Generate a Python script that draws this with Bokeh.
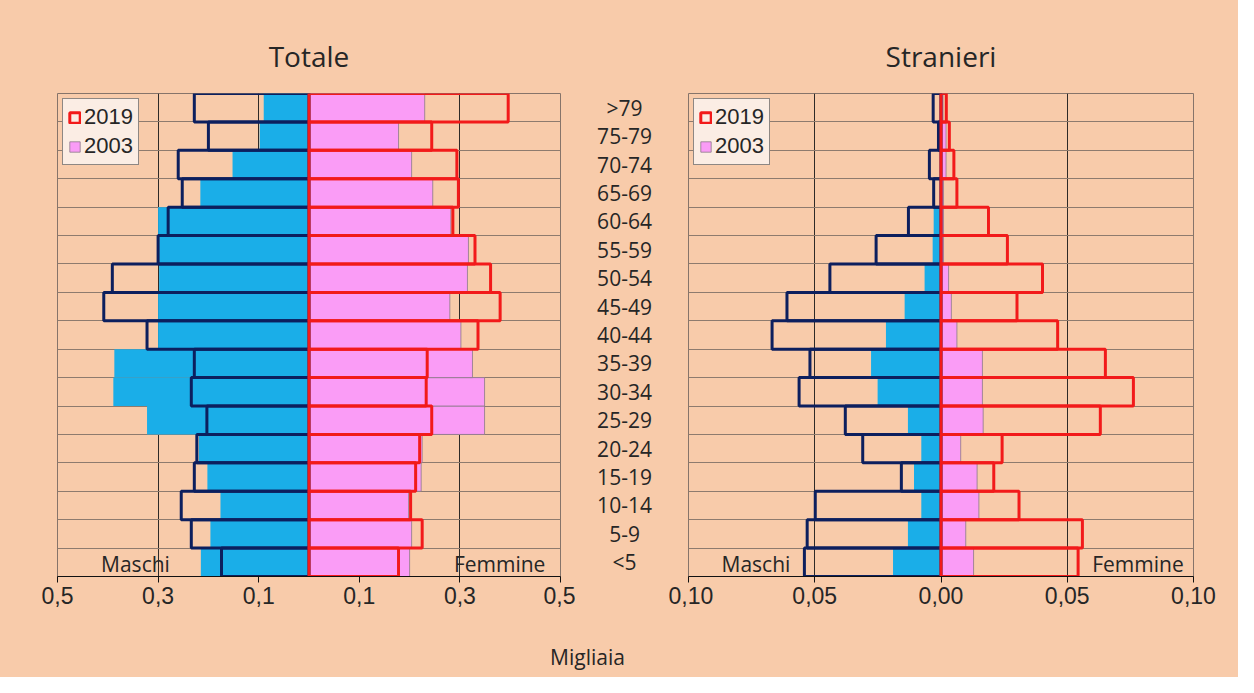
import numpy as np
from bokeh.plotting import figure
from bokeh.models import (Range1d, FixedTicker, Label, ColumnDataSource,
                          Legend, LegendItem)
from bokeh.layouts import row, column
from bokeh.embed import file_html
from bokeh.resources import INLINE
from bokeh.core.properties import value

# ---------------- data (bottom -> top) ----------------
ages = ["<5", "5-9", "10-14", "15-19", "20-24", "25-29", "30-34", "35-39", "40-44",
        "45-49", "50-54", "55-59", "60-64", "65-69", "70-74", "75-79", ">79"]

# Totale (migliaia)
tot_m_2019 = [0.174, 0.234, 0.254, 0.228, 0.223, 0.203, 0.234, 0.228, 0.322,
              0.408, 0.391, 0.300, 0.280, 0.252, 0.260, 0.200, 0.228]
tot_m_2003 = [0.215, 0.196, 0.176, 0.202, 0.219, 0.322, 0.389, 0.387, 0.300,
              0.300, 0.298, 0.298, 0.300, 0.216, 0.152, 0.098, 0.090]
tot_f_2019 = [0.178, 0.225, 0.202, 0.212, 0.220, 0.244, 0.233, 0.235, 0.336,
              0.380, 0.361, 0.330, 0.286, 0.297, 0.294, 0.244, 0.396]
tot_f_2003 = [0.200, 0.204, 0.198, 0.223, 0.225, 0.349, 0.349, 0.325, 0.302,
              0.280, 0.315, 0.317, 0.282, 0.246, 0.204, 0.178, 0.230]

# Stranieri (migliaia)
str_m_2019 = [0.0541, 0.0530, 0.0498, 0.0157, 0.0310, 0.0379, 0.0562, 0.0519, 0.0669,
              0.0610, 0.0440, 0.0257, 0.0129, 0.0029, 0.0046, 0.0010, 0.0031]
str_m_2003 = [0.0190, 0.0131, 0.0078, 0.0107, 0.0078, 0.0131, 0.0251, 0.0277, 0.0218,
              0.0144, 0.0065, 0.0033, 0.0029, 0.0005, 0.0003, 0.0002, 0.0005]
str_f_2019 = [0.0543, 0.0560, 0.0309, 0.0209, 0.0242, 0.0631, 0.0762, 0.0651, 0.0462,
              0.0301, 0.0402, 0.0263, 0.0188, 0.0063, 0.0051, 0.0033, 0.0021]
str_f_2003 = [0.0129, 0.0098, 0.0150, 0.0143, 0.0078, 0.0167, 0.0164, 0.0164, 0.0063,
              0.0041, 0.0030, 0.0010, 0.0010, 0.0010, 0.0020, 0.0020, 0.0008]

tot_ticks = [-0.5, -0.3, -0.1, 0.1, 0.3, 0.5]
tot_tick_labels = ["0,5", "0,3", "0,1", "0,1", "0,3", "0,5"]
str_ticks = [-0.10, -0.05, 0.0, 0.05, 0.10]
str_tick_labels = ["0,10", "0,05", "0,00", "0,05", "0,10"]

titles = ["Totale", "Stranieri"]
years = ["2019", "2003"]
unit_label = "Migliaia"

# ---------------- style ----------------
BG = "#F8CBAA"
BLUE = "#1AAEE8"
PINK = "#FA9CF6"
NAVY = "#0C1F5E"
RED = "#F21A1A"
TXT = "#262626"
SANS = "Open Sans"
ARIAL = "Liberation Sans"

ROW_H = 620          # height of the row with the pyramids
TOP, BOTTOM = 93, 44  # frame: y 93..576
BOT_H = 57           # strip for "Migliaia"


def pyramid(title, m19, m03, f19, f03, xmax, ticks, tick_labels, width, bl, br,
            maschi_x, femmine_x, title_offset):
    n = len(ages)
    p = figure(width=width, height=ROW_H, x_range=Range1d(-xmax, xmax), y_range=Range1d(0, n),
               output_backend="svg", toolbar_location=None,
               min_border_left=bl, min_border_right=br,
               min_border_top=TOP, min_border_bottom=BOTTOM)
    p.background_fill_color = BG
    p.border_fill_color = BG
    p.outline_line_color = "#86746A"
    p.outline_line_width = 1

    src = ColumnDataSource(dict(
        y=np.arange(n) + 0.5,
        m19=-np.array(m19), m03=-np.array(m03),
        f19=np.array(f19), f03=np.array(f03),
    ))
    p.hbar(y="y", left="m03", right=0, height=1, fill_color=BLUE, line_color=None, source=src)
    r03 = p.hbar(y="y", left=0, right="f03", height=1, fill_color=PINK,
                 line_color="#8C7A88", line_width=0.8, source=src)
    p.hbar(y="y", left="m19", right=0, height=1, fill_color=None, line_color=NAVY,
           line_width=3, source=src)
    r19 = p.hbar(y="y", left=0, right="f19", height=1, fill_color=None, line_color=RED,
                 line_width=3, source=src)

    # axes
    p.yaxis.visible = False
    ax = p.xaxis[0]
    ax.ticker = FixedTicker(ticks=ticks)
    ax.major_label_overrides = {t: l for t, l in zip(ticks, tick_labels)}
    ax.major_tick_out = 6
    ax.major_tick_in = 0
    ax.minor_tick_line_color = None
    ax.axis_line_color = "#111111"
    ax.major_tick_line_color = "#111111"
    ax.major_label_text_font = ARIAL
    ax.major_label_text_font_size = "23px"
    ax.major_label_text_color = TXT
    ax.major_label_standoff = 4

    p.xgrid.ticker = FixedTicker(ticks=ticks)
    p.xgrid.grid_line_color = "#2E2A28"
    p.xgrid.grid_line_width = 1
    p.ygrid.ticker = FixedTicker(ticks=list(range(n + 1)))
    p.ygrid.grid_line_color = "#8E7B6E"
    p.ygrid.grid_line_width = 1

    legend = Legend(items=[LegendItem(label=years[0], renderers=[r19]),
                           LegendItem(label=years[1], renderers=[r03])],
                    location="top_left")
    legend.margin = 5
    legend.padding = 5
    legend.spacing = 3
    legend.glyph_width = 13
    legend.glyph_height = 13
    legend.label_standoff = 3
    legend.label_height = 20
    legend.label_text_font = ARIAL
    legend.label_text_font_size = "22px"
    legend.label_text_color = TXT
    legend.background_fill_color = "#FBEDE4"
    legend.background_fill_alpha = 1
    legend.border_line_color = "#222222"
    legend.border_line_width = 1
    p.add_layout(legend)

    # title
    p.title.text = title
    p.title.align = "center"
    p.title.offset = title_offset
    p.title.standoff = 38
    p.title.text_font = SANS
    p.title.text_font_size = "28px"
    p.title.text_font_style = "normal"
    p.title.text_color = TXT

    # Maschi / Femmine
    for xx, t in ((maschi_x, "Maschi"), (femmine_x, "Femmine")):
        p.add_layout(Label(x=xx, y=0.45, text=t, text_font=SANS, text_font_size="21px",
                           text_color=TXT, text_align="center", text_baseline="middle"))
    return p


p1 = pyramid(titles[0], tot_m_2019, tot_m_2003, tot_f_2019, tot_f_2003, 0.5,
             tot_ticks, tot_tick_labels, width=575, bl=57, br=15,
             maschi_x=-0.345, femmine_x=0.379, title_offset=3)
p2 = pyramid(titles[1], str_m_2019, str_m_2003, str_f_2019, str_f_2003, 0.10,
             str_ticks, str_tick_labels, width=570, bl=20, br=45,
             maschi_x=-0.0733, femmine_x=0.078, title_offset=4)

# middle column with the age classes
pm = figure(width=93, height=ROW_H, x_range=Range1d(0, 1), y_range=Range1d(0, len(ages)),
            output_backend="svg", toolbar_location=None,
            x_axis_location=None, y_axis_location=None,
            min_border_left=0, min_border_right=0,
            min_border_top=TOP, min_border_bottom=BOTTOM)
pm.background_fill_color = BG
pm.border_fill_color = BG
pm.outline_line_color = None
pm.grid.visible = False
age_src = ColumnDataSource(dict(y=np.arange(len(ages)) + 0.5, age=ages))
pm.text(x=0.527, y="y", text="age", source=age_src, text_font=value(SANS),
        text_font_size="21px", text_color=TXT, text_align="center", text_baseline="middle")

# bottom strip with the unit label
pb = figure(width=1238, height=BOT_H, x_range=Range1d(0, 1238), y_range=Range1d(0, BOT_H),
            output_backend="svg", toolbar_location=None,
            x_axis_location=None, y_axis_location=None,
            min_border_left=0, min_border_right=0, min_border_top=0, min_border_bottom=0)
pb.background_fill_color = BG
pb.border_fill_color = BG
pb.outline_line_color = None
pb.grid.visible = False
pb.text(x=[587], y=[21], text=[unit_label], text_font=value(SANS), text_font_size="21px",
        text_color=TXT, text_align="center", text_baseline="middle")

layout = column(row(p1, pm, p2, styles={"background-color": BG}), pb,
                styles={"background-color": BG})
open("out.html", "w").write(file_html(layout, INLINE))
